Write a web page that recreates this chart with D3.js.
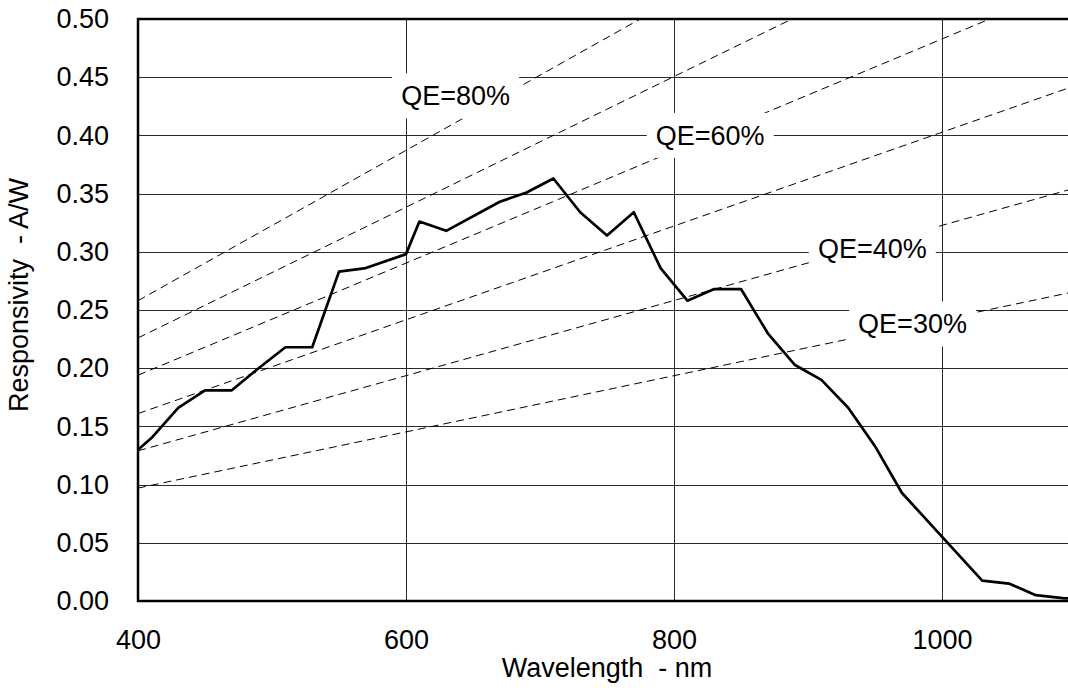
<!DOCTYPE html>
<html>
<head>
<meta charset="utf-8">
<script src="https://cdn.jsdelivr.net/npm/d3@7"></script>
<style>
  body { margin: 0; background: #fff; }
  svg text { font-family: "Liberation Sans", Arial, sans-serif; fill: #000; }
</style>
</head>
<body>
<svg id="chart" width="1068" height="688"></svg>
<script>
// measured responsivity curve
let wavelength = [400, 410, 430, 450, 470, 490, 510, 530, 550, 570, 600, 610, 630, 670, 690, 710,
                  730, 750, 770, 790, 810, 830, 850, 870, 890, 910, 930, 950, 970, 1030, 1050, 1070, 1090, 1100];
let responsivity = [0.130, 0.140, 0.166, 0.181, 0.181, 0.200, 0.218, 0.218, 0.283, 0.286, 0.298, 0.326, 0.318, 0.343, 0.351, 0.363,
                    0.334, 0.314, 0.334, 0.286, 0.258, 0.268, 0.268, 0.230, 0.203, 0.190, 0.166, 0.133, 0.093, 0.0175, 0.015, 0.005, 0.0025, 0.002];

// constant QE reference lines (value read at 400 nm and at 1100 nm)
let qeNames = ["80%", "70%", "60%", "50%", "40%", "30%"];
let qeAt400 = [0.258, 0.226, 0.194, 0.161, 0.129, 0.097];
let qeAt1100 = [0.710, 0.619, 0.531, 0.443, 0.355, 0.266];

// labels placed on the chart
let qeLabelText = ["QE=80%", "QE=60%", "QE=40%", "QE=30%"];
let qeLabelX = [637, 827, 948, 978];
let qeLabelY = [0.434, 0.400, 0.303, 0.238];

let xTicks = [400, 600, 800, 1000];
let yTicks = [0, 0.05, 0.10, 0.15, 0.20, 0.25, 0.30, 0.35, 0.40, 0.45, 0.50];

let svg = d3.select("#chart");
let plotLeft = 138, plotRight = 1076, plotTop = 19, plotBottom = 601;

let x = d3.scaleLinear().domain([400, 1100]).range([plotLeft, plotRight]);
let y = d3.scaleLinear().domain([0, 0.5]).range([plotBottom, plotTop]);

svg.append("clipPath").attr("id", "plotclip")
    .append("rect")
    .attr("x", plotLeft).attr("y", plotTop)
    .attr("width", plotRight - plotLeft).attr("height", plotBottom - plotTop);

// grid + tick labels
let yAxis = svg.append("g")
    .attr("transform", `translate(${plotLeft},0)`)
    .call(d3.axisLeft(y).tickValues(yTicks).tickFormat(d3.format(".2f"))
            .tickSizeInner(-(plotRight - plotLeft)).tickSizeOuter(0).tickPadding(29));
let xAxis = svg.append("g")
    .attr("transform", `translate(0,${plotBottom})`)
    .call(d3.axisBottom(x).tickValues(xTicks).tickFormat(d3.format("d"))
            .tickSizeInner(-(plotBottom - plotTop)).tickSizeOuter(0).tickPadding(29));

[yAxis, xAxis].forEach(ax => {
    ax.select(".domain").remove();
    ax.selectAll(".tick line")
        .attr("stroke", "#2a2a2a")
        .attr("stroke-width", 1)
        .attr("shape-rendering", "crispEdges");
    ax.selectAll(".tick text")
        .style("font-size", "27px");
});

// dashed QE lines
let plot = svg.append("g").attr("clip-path", "url(#plotclip)");
plot.selectAll(".qe")
    .data(qeNames)
    .enter()
    .append("line")
    .attr("class", "qe")
    .attr("x1", x(400))
    .attr("y1", (d, i) => y(qeAt400[i]))
    .attr("x2", x(1100))
    .attr("y2", (d, i) => y(qeAt1100[i]))
    .attr("stroke", "#000")
    .attr("stroke-width", 1)
    .attr("stroke-dasharray", "8,5");

// label boxes
let boxW = 127, boxH = 45;
let labels = plot.selectAll(".qelabel")
    .data(qeLabelText)
    .enter()
    .append("g")
    .attr("class", "qelabel")
    .attr("transform", (d, i) => `translate(${x(qeLabelX[i])},${y(qeLabelY[i])})`);
labels.append("rect")
    .attr("x", -boxW / 2).attr("y", -boxH / 2)
    .attr("width", boxW).attr("height", boxH)
    .attr("fill", "#fff");
labels.append("text")
    .attr("text-anchor", "middle")
    .attr("dy", "0.35em")
    .style("font-size", "27px")
    .text(d => d);

// responsivity curve
let line = d3.line()
    .x((d, i) => x(wavelength[i]))
    .y(d => y(d));
plot.append("path")
    .datum(responsivity)
    .attr("d", line)
    .attr("fill", "none")
    .attr("stroke", "#000")
    .attr("stroke-width", 2.7)
    .attr("stroke-linejoin", "round");

// frame
svg.append("rect")
    .attr("x", plotLeft).attr("y", plotTop)
    .attr("width", plotRight - plotLeft).attr("height", plotBottom - plotTop)
    .attr("fill", "none")
    .attr("stroke", "#000")
    .attr("stroke-width", 2.5);

// axis titles
svg.append("text")
    .attr("x", (plotLeft + plotRight) / 2)
    .attr("y", 677)
    .attr("text-anchor", "middle")
    .style("font-size", "27px")
    .style("white-space", "pre")
    .text("Wavelength  - nm");

svg.append("text")
    .attr("transform", "translate(28,412) rotate(-90)")
    .attr("text-anchor", "start")
    .style("font-size", "27px")
    .style("white-space", "pre")
    .text("Responsivity  - A/W");
</script>
</body>
</html>
